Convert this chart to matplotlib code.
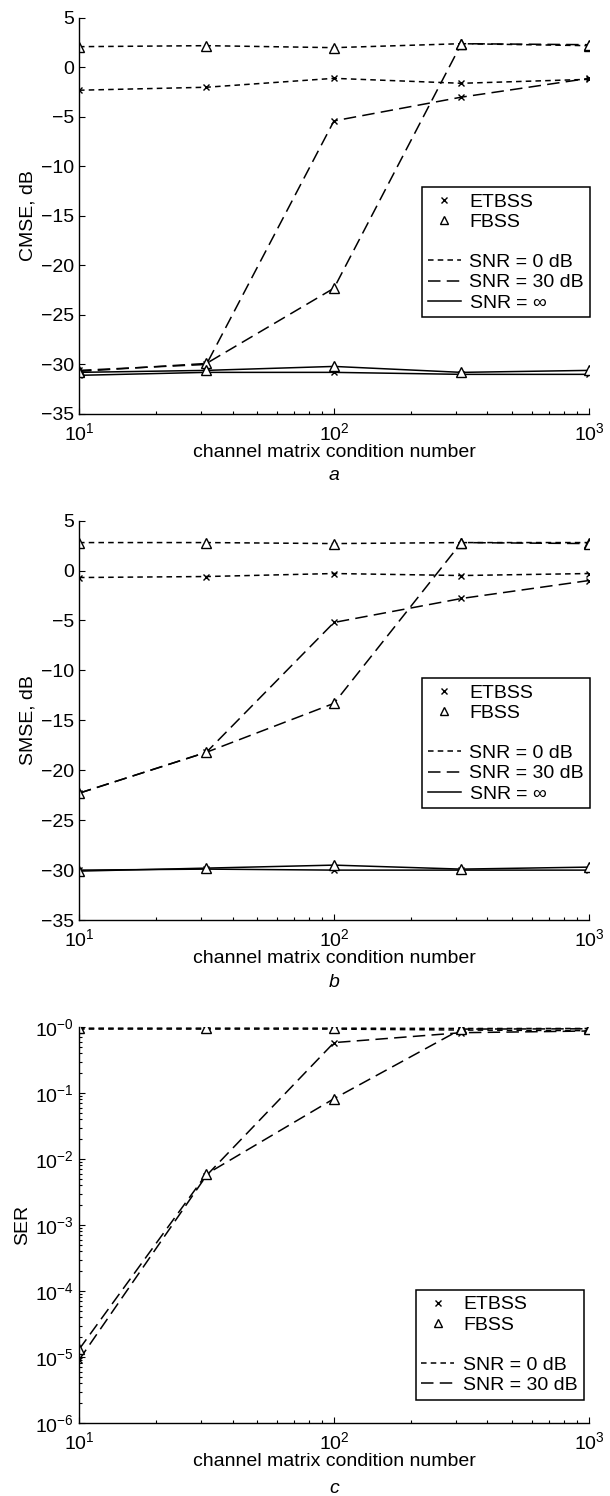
import matplotlib
matplotlib.use("Agg")
import matplotlib.pyplot as plt
from matplotlib.lines import Line2D
from matplotlib.ticker import LogLocator, NullFormatter, FixedLocator, FixedFormatter

plt.rcParams['font.family'] = ['Liberation Sans', 'DejaVu Sans']
plt.rcParams['mathtext.fontset'] = 'custom'
plt.rcParams['mathtext.rm'] = 'Liberation Sans'
plt.rcParams['mathtext.it'] = 'Liberation Sans:italic'
plt.rcParams['lines.scale_dashes'] = False

# ---------------------------------------------------------------------------
# Data
# ---------------------------------------------------------------------------

cond_numbers = [10, 31.6, 100, 316, 1000]

# a: CMSE, dB
cmse_etbss_0 = [-2.3, -2.0, -1.1, -1.6, -1.2]
cmse_fbss_0 = [2.1, 2.2, 2.0, 2.4, 2.2]
cmse_etbss_30 = [-30.6, -30.0, -5.4, -3.0, -1.1]
cmse_fbss_30 = [-30.7, -29.9, -22.3, 2.4, 2.3]
cmse_etbss_inf = [-31.1, -30.8, -30.8, -31.0, -31.0]
cmse_fbss_inf = [-30.8, -30.6, -30.2, -30.8, -30.6]

# b: SMSE, dB
smse_etbss_0 = [-0.7, -0.6, -0.3, -0.5, -0.3]
smse_fbss_0 = [2.8, 2.8, 2.7, 2.8, 2.8]
smse_etbss_30 = [-22.3, -18.2, -5.2, -2.8, -1.0]
smse_fbss_30 = [-22.3, -18.2, -13.3, 2.8, 2.7]
smse_etbss_inf = [-30.0, -29.9, -30.0, -30.0, -30.0]
smse_fbss_inf = [-30.1, -29.8, -29.5, -29.9, -29.7]

# c: SER
ser_etbss_0 = [0.93, 0.93, 0.93, 0.9, 0.88]
ser_fbss_0 = [0.96, 0.96, 0.96, 0.95, 0.95]
ser_etbss_30 = [9e-6, 5.6e-3, 0.58, 0.82, 0.87]
ser_fbss_30 = [1.3e-5, 5.9e-3, 0.082, 0.93, 0.94]

ser_ticks = [1e-6, 1e-5, 1e-4, 1e-3, 1e-2, 1e-1, 1]
ser_tick_labels = [r'$10^{-6}$', r'$10^{-5}$', r'$10^{-4}$', r'$10^{-3}$',
                   r'$10^{-2}$', r'$10^{-1}$', r'$10^{-0}$']

# ---------------------------------------------------------------------------
# Styles
# ---------------------------------------------------------------------------

DASH_0 = (0, (4, 3))
DASH_30 = (0, (9, 4.5))
LW = 1.1
FS = 14

X_STYLE = dict(marker='x', ms=4, mew=1.0, color='black', mfc='black')
T_STYLE = dict(marker='^', ms=6.5, mew=1.0, color='black', mfc='white')


def style_axes(ax):
    ax.set_xscale('log')
    ax.set_xlim(10, 1000)
    ax.spines['top'].set_visible(False)
    ax.spines['right'].set_visible(False)
    for sp in ('left', 'bottom'):
        ax.spines[sp].set_linewidth(1.0)
    ax.tick_params(which='both', direction='in', labelsize=FS, width=0.8)
    ax.tick_params(which='major', length=4)
    ax.tick_params(which='minor', length=2.5)
    ax.tick_params(axis='x', which='major', pad=6)
    ax.xaxis.set_minor_locator(LogLocator(base=10, subs=range(2, 10)))
    ax.xaxis.set_minor_formatter(NullFormatter())
    ax.set_xlabel('channel matrix condition number', fontsize=FS, labelpad=0)


def add_legend(ax, anchor, with_inf=True):
    handles = [
        Line2D([], [], linestyle='none', **X_STYLE),
        Line2D([], [], linestyle='none', marker='^', ms=5.5, mew=1.0,
               color='black', mfc='white'),
        Line2D([], [], linestyle='none'),
        Line2D([], [], color='black', lw=LW, linestyle=DASH_0),
        Line2D([], [], color='black', lw=LW, linestyle=DASH_30),
    ]
    labels = ['ETBSS', 'FBSS', ' ', 'SNR = 0 dB', 'SNR = 30 dB']
    if with_inf:
        handles.append(Line2D([], [], color='black', lw=LW))
        labels.append(r'SNR = $\infty$')
    leg = ax.legend(handles, labels, loc='upper left', bbox_to_anchor=anchor,
                    fontsize=FS, frameon=True, fancybox=False, edgecolor='black',
                    framealpha=1, handlelength=1.7, handletextpad=0.45,
                    labelspacing=0.13, borderpad=0.3, borderaxespad=0)
    leg.get_frame().set_linewidth(1.1)


def plot_set(ax, ys, ls):
    ax.plot(cond_numbers, ys[0], linestyle=ls, lw=LW, **X_STYLE)
    ax.plot(cond_numbers, ys[1], linestyle=ls, lw=LW, **T_STYLE)


fig = plt.figure(figsize=(6.1, 14.96), dpi=100)

ax_a = fig.add_axes([0.1295, 0.7233, 0.836, 0.2647])
ax_b = fig.add_axes([0.1295, 0.3850, 0.836, 0.2670])
ax_c = fig.add_axes([0.1295, 0.0488, 0.836, 0.2647])

# a
plot_set(ax_a, (cmse_etbss_0, cmse_fbss_0), DASH_0)
plot_set(ax_a, (cmse_etbss_30, cmse_fbss_30), DASH_30)
plot_set(ax_a, (cmse_etbss_inf, cmse_fbss_inf), '-')
style_axes(ax_a)
ax_a.set_ylim(-35, 5)
ax_a.set_yticks(range(-35, 6, 5))
ax_a.set_ylabel('CMSE, dB', fontsize=FS, labelpad=3)
add_legend(ax_a, (0.672, 0.572))
ax_a.text(0.5, -0.135, 'a', transform=ax_a.transAxes, ha='center', va='top',
          fontsize=FS, style='italic')

# b
plot_set(ax_b, (smse_etbss_0, smse_fbss_0), DASH_0)
plot_set(ax_b, (smse_etbss_30, smse_fbss_30), DASH_30)
plot_set(ax_b, (smse_etbss_inf, smse_fbss_inf), '-')
style_axes(ax_b)
ax_b.set_ylim(-35, 5)
ax_b.set_yticks(range(-35, 6, 5))
ax_b.set_ylabel('SMSE, dB', fontsize=FS, labelpad=3)
add_legend(ax_b, (0.672, 0.605))
ax_b.text(0.5, -0.135, 'b', transform=ax_b.transAxes, ha='center', va='top',
          fontsize=FS, style='italic')

# c
plot_set(ax_c, (ser_etbss_0, ser_fbss_0), DASH_0)
plot_set(ax_c, (ser_etbss_30, ser_fbss_30), DASH_30)
style_axes(ax_c)
ax_c.set_yscale('log')
ax_c.set_ylim(1e-6, 1)
ax_c.yaxis.set_major_locator(FixedLocator(ser_ticks))
ax_c.yaxis.set_major_formatter(FixedFormatter(ser_tick_labels))
ax_c.yaxis.set_minor_locator(LogLocator(base=10, subs=range(2, 10)))
ax_c.yaxis.set_minor_formatter(NullFormatter())
ax_c.set_ylabel('SER', fontsize=FS, labelpad=3)
add_legend(ax_c, (0.660, 0.336), with_inf=False)
ax_c.text(0.5, -0.145, 'c', transform=ax_c.transAxes, ha='center', va='top',
          fontsize=FS, style='italic')

fig.savefig('out.png', dpi=100)
